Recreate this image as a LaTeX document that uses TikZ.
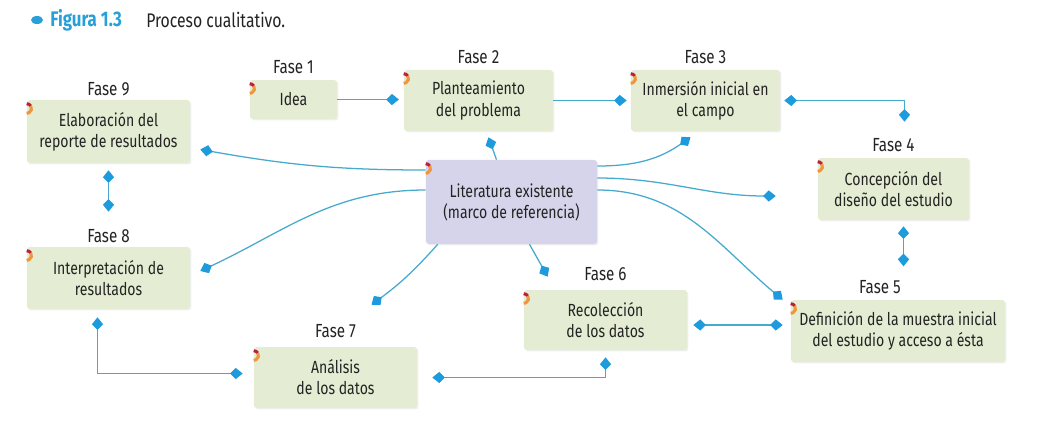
\documentclass[tikz,border=0pt]{standalone}
\usepackage{fontspec}
\setmainfont{Fira Sans}[FakeStretch=0.8]
\definecolor{boxgreen}{RGB}{228, 237, 211}
\definecolor{litlilac}{RGB}{214, 212, 234}
\definecolor{linkblue}{RGB}{70, 170, 205}
\definecolor{tipblue}{RGB}{30, 155, 220}
\definecolor{figblue}{RGB}{40, 160, 215}
\definecolor{inkgray}{RGB}{35, 35, 35}
\definecolor{markred}{RGB}{190, 30, 60}
\definecolor{markorange}{RGB}{240, 150, 60}
\usetikzlibrary{arrows.meta, positioning, calc, shadows}

\tikzset{
  fasebox/.style={fill=boxgreen, rounded corners=2pt, align=center, text=inkgray,
    font=\fontsize{12.5}{15}\selectfont,
    drop shadow={opacity=0.12, shadow xshift=1pt, shadow yshift=-1pt}},
  fase/.style={font=\fontsize{13.5}{15}\selectfont, text=inkgray, inner sep=1pt, label distance=3pt},
  link/.style={draw=linkblue, line width=0.9pt, arrows={-Kite[length=9pt, width=8pt, inset=4pt, color=tipblue]}},
  dlink/.style={link, arrows={Kite[length=9pt, width=8pt, inset=4pt, color=tipblue]-Kite[length=9pt, width=8pt, inset=4pt, color=tipblue]}}
}

\begin{document}
\begin{tikzpicture}[x=0.025cm, y=-0.025cm]
  \useasboundingbox (0,0) rectangle (1037,430);

  % Caption
  \fill[figblue] (37,20) ellipse[x radius=6, y radius=4];
  \node[anchor=west, font=\fontsize{15}{17}\selectfont\bfseries, text=figblue, inner sep=0pt] (figno) at (50,20) {Figura 1.3};
  \node[anchor=west, font=\fontsize{14}{16}\selectfont, text=inkgray, inner sep=0pt] (figtitle) at (146,20) {Proceso cualitativo.};

  % Phases
  \node[fasebox, minimum width=2.175cm, minimum height=0.975cm, label={[fase]above:Fase 1}] (f1) at (293.5,99.5) {Idea};
  \node[fasebox, minimum width=3.725cm, minimum height=1.525cm, label={[fase]above:Fase 2}] (f2) at (478.5,100.5) {Planteamiento\\del problema};
  \node[fasebox, minimum width=3.725cm, minimum height=1.525cm, label={[fase]above:Fase 3}] (f3) at (705.5,100.5) {Inmersión inicial en\\el campo};
  \node[fasebox, minimum width=3.775cm, minimum height=1.55cm, label={[fase]above:Fase 4}] (f4) at (893.5,189) {Concepción del\\diseño del estudio};
  \node[fasebox, minimum width=5.35cm, minimum height=1.55cm, label={[fase, xshift=-0.45cm]above:Fase 5}] (f5) at (898,331) {Definición de la muestra inicial\\del estudio y acceso a ésta};
  \node[fasebox, minimum width=4.075cm, minimum height=1.5cm, label={[fase, label distance=5pt]above:Fase 6}] (f6) at (605.5,320) {Recolección\\de los datos};
  \node[fasebox, minimum width=4.075cm, minimum height=1.525cm, label={[fase, label distance=5pt]above:Fase 7}] (f7) at (335.5,377.5) {Análisis\\de los datos};
  \node[fasebox, minimum width=4.075cm, minimum height=1.55cm, label={[fase, label distance=1.5pt]above:Fase 8}] (f8) at (108.5,278) {Interpretación de\\resultados};
  \node[fasebox, minimum width=4.075cm, minimum height=1.575cm, label={[fase, label distance=1.5pt]above:Fase 9}] (f9) at (108.5,131.5) {Elaboración del\\reporte de resultados};

  % Literature
  \node[fasebox, fill=litlilac, minimum width=4.275cm, minimum height=2.1cm] (lit) at (511.5,202) {Literatura existente\\(marco de referencia)};

  % Corner marks
  \foreach \n in {f1,f2,f3,f4,f5,f6,f7,f8,f9,lit} {
    \draw[markred, line width=2.2pt] ($(\n.north west)+(0,4)$) arc[start angle=90, end angle=30, radius=0.12cm] coordinate (m\n);
    \draw[markorange, line width=2.2pt] (m\n) arc[start angle=30, end angle=-90, radius=0.12cm];
  }

  % Sequence of phases
  \draw[link, shorten >=0.12cm] (f1.east) -- (f1.east -| f2.west);
  \draw[link, shorten >=0.1cm] (f2.east) -- (f2.east -| f3.west);
  \draw[dlink, shorten <=0.1cm] (f3.east) -| ($(f4.north)+(11,-36)$);
  \draw[dlink] ($(f4.south)+(10,6)$) -- ($(f4.south)+(10,46)$);
  \draw[dlink] ($(f6.east)+(6,5)$) -- ($(f5.west)+(-8,-6)$);
  \draw[dlink] ($(f7.east)+(15,0)$) -| ($(f6.south)+(0,7)$);
  \draw[dlink] ($(f8.south)+(-11,8)$) |- ($(f7.west)+(-11,-4)$);
  \draw[dlink] ($(f9.south)+(0,7)$) -- ($(f8.north)+(0,-35)$);

  % Literature links
  \draw[link] ($(lit.north)+(-15,0)$) -- ($(f2.south)+(10,6)$);
  \draw[link] ($(lit.east)+(0,-36)$) to[out=0, in=215] ($(f3.south)+(-15,6)$);
  \draw[link] ($(lit.east)+(0,-24)$) to[out=0, in=180] ($(f4.west)+(-42,7)$);
  \draw[link] ($(lit.east)+(0,-12)$) to[out=0, in=140] ($(f5.north west)+(-8,0)$);
  \draw[link] ($(lit.south)+(18,0)$) -- ($(f6.north west)+(24,-13)$);
  \draw[link] ($(lit.south west)+(12,0)$) to[bend left=6] ($(f7.north)+(36,-42)$);
  \draw[link] ($(lit.west)+(0,-12)$) to[out=180, in=25] ($(f8.east)+(10,-7)$);
  \draw[link] ($(lit.west)+(0,-32)$) to[out=180, in=-10] ($(f9.east)+(10,18)$);
\end{tikzpicture}
\end{document}
